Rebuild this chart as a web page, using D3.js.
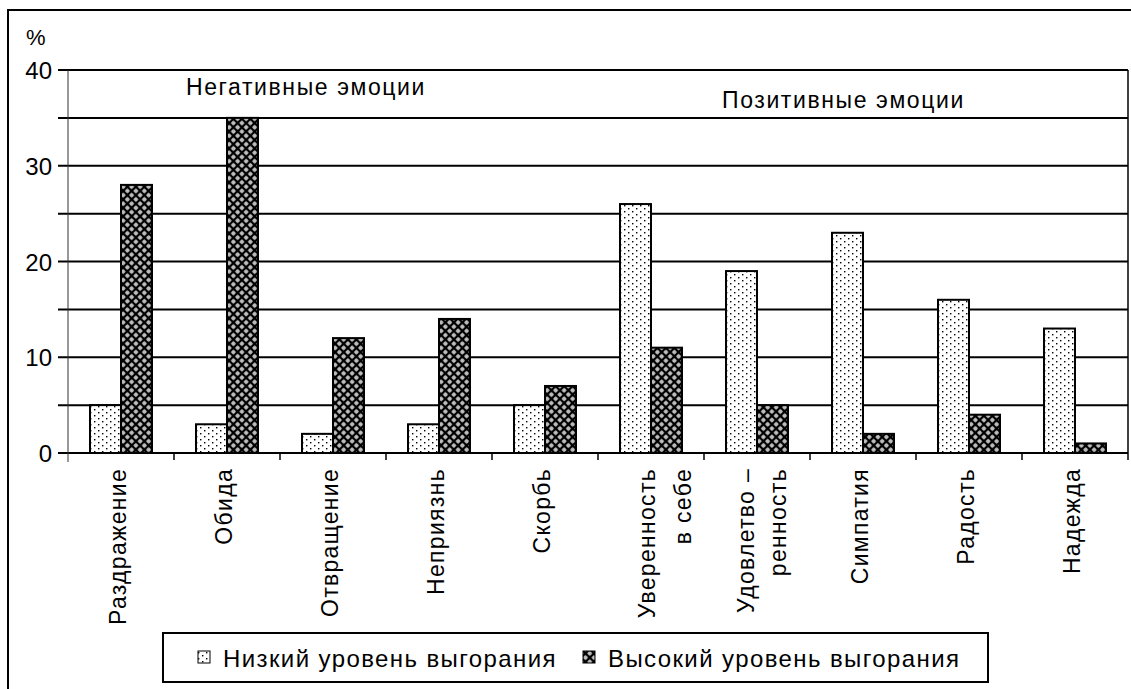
<!DOCTYPE html>
<html><head><meta charset="utf-8">
<script src="https://cdn.jsdelivr.net/npm/d3@7"></script>
<style>
html,body{margin:0;padding:0;background:#fff;}
svg text{font-family:"Liberation Sans",Arial,sans-serif;fill:#000;}
</style></head>
<body>
<svg id="chart" width="1131" height="689"></svg>
<script>
const categories = [["Раздражение"],["Обида"],["Отвращение"],["Неприязнь"],["Скорбь"],["Уверенность","в себе"],["Удовлетво –","ренность"],["Симпатия"],["Радость"],["Надежда"]];
const lowValues  = [5, 3, 2, 3, 5, 26, 19, 23, 16, 13];
const highValues = [28, 35, 12, 14, 7, 11, 5, 2, 4, 1];
const seriesNames = ["Низкий уровень выгорания", "Высокий уровень выгорания"];
const yTicks = [0, 10, 20, 30, 40];
const gridValues = [0, 5, 10, 15, 20, 25, 30, 35, 40];
const groupTitles = ["Негативные эмоции", "Позитивные эмоции"];

const svg = d3.select("#chart");
const defs = svg.append("defs");
// dotted pattern
const pLow = defs.append("pattern").attr("id","pLow").attr("patternUnits","userSpaceOnUse").attr("width",8).attr("height",6);
pLow.append("rect").attr("width",8).attr("height",6).attr("fill","#fff");
pLow.append("rect").attr("x",2).attr("y",1).attr("width",1.4).attr("height",1.4).attr("fill","#000");
pLow.append("rect").attr("x",6).attr("y",4).attr("width",1.4).attr("height",1.4).attr("fill","#000");
// crosshatch pattern (diagonal lattice with white holes)
const pHigh = defs.append("pattern").attr("id","pHigh").attr("patternUnits","userSpaceOnUse")
  .attr("width",6).attr("height",6).attr("patternTransform","rotate(45)");
pHigh.append("rect").attr("width",6).attr("height",6).attr("fill","#000");
pHigh.append("rect").attr("x",1.3).attr("y",1.3).attr("width",3.4).attr("height",3.4).attr("fill","#fff");
pHigh.append("rect").attr("x",2.5).attr("y",2.5).attr("width",1).attr("height",1).attr("fill","#000");

// outer frame
svg.append("rect").attr("x",8).attr("y",10).attr("width",1140).attr("height",700)
  .attr("fill","none").attr("stroke","#000").attr("stroke-width",2);

const x0 = d3.scaleBand().domain(d3.range(categories.length)).range([68, 1128]).paddingInner(0).paddingOuter(0);
const x1 = d3.scaleBand().domain([0,1]).range([0, x0.bandwidth()]).paddingInner(0).paddingOuter(0.71);
const y = d3.scaleLinear().domain([0, 40]).range([453, 70]);

// gridlines
svg.append("g").selectAll("line").data(gridValues).join("line")
  .attr("x1",58).attr("x2",1128).attr("y1",d=>y(d)).attr("y2",d=>y(d))
  .attr("stroke","#000").attr("stroke-width",2);
svg.append("line").attr("x1",1128).attr("x2",1128).attr("y1",y(40)).attr("y2",y(0)+7).attr("stroke","#000").attr("stroke-width",1.5);

// y axis
const yAxis = svg.append("g").attr("transform","translate(68,0)")
  .call(d3.axisLeft(y).tickValues(yTicks).tickSize(0).tickPadding(16));
yAxis.select(".domain").remove();
yAxis.selectAll("text").attr("font-size",24).attr("font-family","Liberation Sans, Arial, sans-serif").attr("dy","0.36em");
svg.append("line").attr("x1",68).attr("x2",68).attr("y1",y(40)).attr("y2",y(0)+9).attr("stroke","#333").attr("stroke-width",1);

svg.append("text").attr("x",26).attr("y",45).attr("font-size",22).text("%");

// x ticks
svg.append("g").selectAll("line").data(d3.range(1, categories.length)).join("line")
  .attr("x1",d=>x0(d)).attr("x2",d=>x0(d)).attr("y1",y(0)).attr("y2",y(0)+7)
  .attr("stroke","#000").attr("stroke-width",1.5);

// bars
const groups = svg.append("g").selectAll("g").data(categories.map((c,i)=>i)).join("g")
  .attr("transform", i => `translate(${x0(i)},0)`);
groups.append("rect").attr("x",x1(0)).attr("width",x1.bandwidth())
  .attr("y",i=>y(lowValues[i])).attr("height",i=>y(0)-y(lowValues[i]))
  .attr("fill","url(#pLow)").attr("stroke","#000").attr("stroke-width",2);
groups.append("rect").attr("x",x1(1)).attr("width",x1.bandwidth())
  .attr("y",i=>y(highValues[i])).attr("height",i=>y(0)-y(highValues[i]))
  .attr("fill","url(#pHigh)").attr("stroke","#000").attr("stroke-width",2);

// category labels
const lineOffsets = {5: [4, 40], 6: [-3, 29]};
categories.forEach((lines, i) => {
  const cx = x0(i) + x0.bandwidth()/2;
  const offs = lineOffsets[i] || [5];
  lines.forEach((t, j) => {
    svg.append("text").attr("transform",`translate(${cx + offs[j]},468) rotate(-90)`)
      .attr("text-anchor","end").attr("font-size",23).attr("letter-spacing",1.3).text(t);
  });
});

// group titles
svg.append("text").attr("x",186).attr("y",95).attr("font-size",23).attr("letter-spacing",1.6).text(groupTitles[0]);
svg.append("text").attr("x",722).attr("y",108).attr("font-size",23).attr("letter-spacing",1.6).text(groupTitles[1]);

// legend
svg.append("rect").attr("x",163).attr("y",633).attr("width",825).attr("height",49)
  .attr("fill","#fff").attr("stroke","#000").attr("stroke-width",2);
const legX = [198, 583];
seriesNames.forEach((n, i) => {
  svg.append("rect").attr("x",legX[i]).attr("y",651).attr("width",12).attr("height",12)
    .attr("fill", i===0 ? "url(#pLow)" : "url(#pHigh)").attr("stroke","#000").attr("stroke-width",1);
  svg.append("text").attr("x",legX[i]+25).attr("y",667).attr("font-size",24).attr("letter-spacing",1.4).text(n);
});
</script>
</body></html>
